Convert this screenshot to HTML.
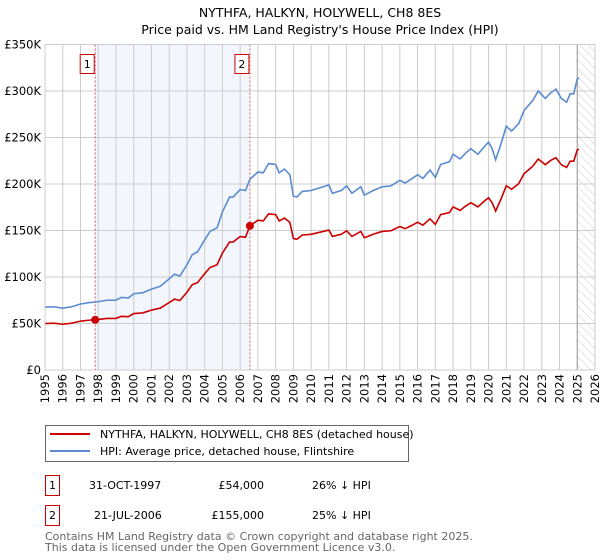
<!DOCTYPE html>
<html><head><meta charset="utf-8"><style>
body{margin:0;background:#fff;font-family:"DejaVu Sans","Liberation Sans",sans-serif;}
svg{display:block}
</style></head><body>
<svg width="600" height="560" xmlns="http://www.w3.org/2000/svg" font-family="DejaVu Sans, Liberation Sans, sans-serif">
<defs><pattern id="hatch" width="6" height="6" patternUnits="userSpaceOnUse" patternTransform="rotate(-45)"><line x1="0" y1="0" x2="0" y2="6" stroke="#ccc" stroke-width="1"/></pattern></defs>
<text x="320" y="17" text-anchor="middle" font-size="12.5" fill="#000">NYTHFA, HALKYN, HOLYWELL, CH8 8ES</text>
<text x="320" y="34" text-anchor="middle" font-size="12.5" fill="#000">Price paid vs. HM Land Registry's House Price Index (HPI)</text>
<g id="plot"></g>
<g>
<rect x="45.5" y="425.5" width="363" height="36" fill="#fff" stroke="#666"/>
<line x1="50" y1="434" x2="90" y2="434" stroke="#cc0000" stroke-width="2"/>
<text x="100" y="438" font-size="11">NYTHFA, HALKYN, HOLYWELL, CH8 8ES (detached house)</text>
<line x1="50" y1="451" x2="90" y2="451" stroke="#5b8bd0" stroke-width="2"/>
<text x="100" y="455" font-size="11">HPI: Average price, detached house, Flintshire</text>
</g>
<g font-size="11">
<rect x="45.5" y="475.5" width="14" height="20" fill="#fff" stroke="#cc0000"/><text x="52.5" y="489" text-anchor="middle">1</text>
<text x="89" y="489">31-OCT-1997</text><text x="264" y="489" text-anchor="end">£54,000</text><text x="312" y="489">26% ↓ HPI</text>
<rect x="45.5" y="505.5" width="14" height="20" fill="#fff" stroke="#cc0000"/><text x="52.5" y="519" text-anchor="middle">2</text>
<text x="94" y="519">21-JUL-2006</text><text x="264" y="519" text-anchor="end">£155,000</text><text x="312" y="519">25% ↓ HPI</text>
</g>
<text x="45" y="540" font-size="11" fill="#666">Contains HM Land Registry data © Crown copyright and database right 2025.</text>
<text x="45" y="551" font-size="11" fill="#666">This data is licensed under the Open Government Licence v3.0.</text>
</svg>
<script>
const hpiYears=[1995,1995.5,1996,1996.5,1997,1997.5,1997.83,1998.5,1999,1999.3,1999.7,2000,2000.5,2001,2001.5,2002,2002.3,2002.6,2003,2003.3,2003.6,2004,2004.3,2004.7,2005,2005.4,2005.6,2006,2006.3,2006.55,2007,2007.3,2007.6,2008,2008.2,2008.5,2008.8,2009,2009.2,2009.5,2010,2010.5,2011,2011.2,2011.7,2012,2012.3,2012.8,2013,2013.5,2014,2014.5,2015,2015.3,2015.7,2016,2016.3,2016.7,2017,2017.3,2017.8,2018,2018.4,2018.7,2019,2019.4,2019.8,2020,2020.2,2020.4,2020.7,2021,2021.3,2021.7,2022,2022.5,2022.8,2023.2,2023.5,2023.8,2024.1,2024.4,2024.6,2024.8,2025,2025.1];
const hpiValues=[67.5,68,66.5,68,71,72.5,73,75,75,78,77.5,82,83,87,90,98,103,101,113,124,127,140,149,153,170,186,186,194,193,205,213,212,222,221,212,216,210,187,186,192,193,196,199,190,193,198,190,197,188,193,197,198,204,201,206,210,206,215,207,221,224,232,227,233,238,232,241,245,238,226,243,262,257,265,279,290,300,292,298,302,292,288,297,297,313,314];
const saleYears=[1997.83,2006.55];
const salePrices=[54,155];
const yTicks=[0,50,100,150,200,250,300,350];
const yTickLabels=["£0","£50K","£100K","£150K","£200K","£250K","£300K","£350K"];
const xTicks=[1995,1996,1997,1998,1999,2000,2001,2002,2003,2004,2005,2006,2007,2008,2009,2010,2011,2012,2013,2014,2015,2016,2017,2018,2019,2020,2021,2022,2023,2024,2025,2026];

const X0=45,X1=595,Y0=370,Y1=44.5;
const xs=y=>X0+(y-1995)/(2026-1995)*(X1-X0);
const ys=v=>Y0-v/350*(Y0-Y1);
const NS="http://www.w3.org/2000/svg";
const g=document.getElementById('plot');
function mk(t,a){const e=document.createElementNS(NS,t);for(const k in a)e.setAttribute(k,a[k]);g.appendChild(e);return e;}
// shading
let sh=mk('rect',{x:xs(saleYears[0]),y:Y1,width:xs(saleYears[1])-xs(saleYears[0]),height:Y0-Y1,fill:'#eef3fc',opacity:0.7});


let hz=mk('rect',{x:xs(2025),y:Y1,width:X1-xs(2025),height:Y0-Y1,fill:'url(#hatch)'});


xTicks.forEach(t=>{let l=mk('line',{x1:xs(t),x2:xs(t),y1:Y1,y2:Y0,stroke:'#ccc','stroke-width':1});


let tx=mk('text',{x:0,y:0,transform:`translate(${xs(t)+4},${Y0+4}) rotate(-90)`,'text-anchor':'end','font-size':'11.5'});tx.textContent=t;

});
yTicks.forEach((t,i)=>{let l=mk('line',{x1:X0,x2:X1,y1:ys(t),y2:ys(t),stroke:'#ccc','stroke-width':1});


let tx=mk('text',{x:X0-4,y:ys(t)+4,'text-anchor':'end','font-size':'11.5'});tx.textContent=yTickLabels[i];

});
let now=mk('line',{x1:xs(2025),x2:xs(2025),y1:Y1,y2:Y0,stroke:'#999','stroke-width':1});


saleYears.forEach((s,i)=>{let l=mk('line',{x1:xs(s),x2:xs(s),y1:Y1,y2:Y0,stroke:'#e05060','stroke-width':1,'stroke-dasharray':'2,2'});


let r=mk('rect',{x:xs(s)-15,y:54.5,width:14,height:19,fill:'#fff',stroke:'#cc0000'});


let t=mk('text',{x:xs(s)-8,y:68,'text-anchor':'middle','font-size':'11'});t.textContent=i+1;

});
function interp(yr){for(let i=1;i<hpiYears.length;i++){if(yr<=hpiYears[i]){const f=(yr-hpiYears[i-1])/(hpiYears[i]-hpiYears[i-1]);return hpiValues[i-1]+f*(hpiValues[i]-hpiValues[i-1]);}}return hpiValues[hpiValues.length-1];}
const hp=hpiYears.map((y,i)=>xs(y)+','+ys(hpiValues[i])).join(' ');
let hl=mk('polyline',{points:hp,fill:'none',stroke:'#5b8bd0','stroke-width':1.6});


const rp=hpiYears.map((y,i)=>{const k=y<saleYears[1]?0:1;const v=salePrices[k]*hpiValues[i]/interp(saleYears[k]);return xs(y)+','+ys(v);}).join(' ');
let rl=mk('polyline',{points:rp,fill:'none',stroke:'#cc0000','stroke-width':1.6});


saleYears.forEach((s,i)=>{let c=mk('circle',{cx:xs(s),cy:ys(salePrices[i]),r:4,fill:'#cc0000'});

});
let fr=mk('rect',{x:X0,y:Y1,width:X1-X0,height:Y0-Y1,fill:'none',stroke:'#ccc'});


</script>
</body></html>
